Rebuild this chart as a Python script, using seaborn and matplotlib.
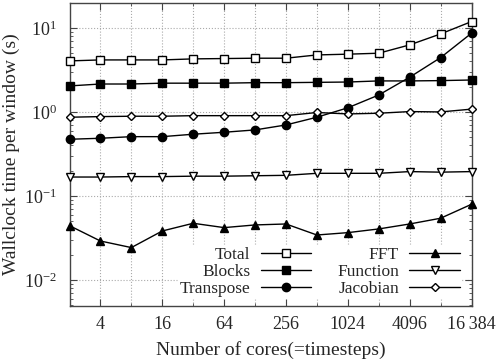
import numpy as np
import pandas as pd
import matplotlib
matplotlib.use("Agg")
import matplotlib.pyplot as plt
import matplotlib.ticker as mticker
import seaborn as sns

# Data
cores = [2, 4, 8, 16, 32, 64, 128, 256, 512, 1024, 2048, 4096, 8192, 16384]
total = [4.05, 4.16, 4.16, 4.16, 4.28, 4.32, 4.36, 4.36, 4.77, 4.87, 5.0, 6.28, 8.48, 11.9]
blocks = [2.04, 2.15, 2.15, 2.20, 2.20, 2.20, 2.23, 2.23, 2.25, 2.27, 2.34, 2.34, 2.36, 2.40]
transpose = [0.473, 0.486, 0.508, 0.508, 0.543, 0.573, 0.611, 0.70, 0.865, 1.12, 1.59, 2.59, 4.43, 8.65]
fft = [0.0443, 0.0291, 0.0243, 0.0383, 0.0473, 0.0420, 0.0452, 0.0464, 0.0343, 0.0366, 0.0405, 0.0464, 0.0543, 0.0796]
function = [0.168, 0.168, 0.170, 0.170, 0.172, 0.172, 0.174, 0.176, 0.186, 0.186, 0.186, 0.195, 0.192, 0.195]
jacobian = [0.865, 0.880, 0.889, 0.889, 0.903, 0.903, 0.903, 0.903, 0.985, 0.947, 0.965, 1.01, 1.0, 1.08]

x_ticks = [4, 16, 64, 256, 1024, 4096, 16384]
x_ticklabels = ["4", "16", "64", "256", "1024", "4096", "16\u2009384"]

sns.set_theme(style="ticks")
plt.rcParams["font.family"] = ["Liberation Serif", "DejaVu Serif"]
plt.rcParams["mathtext.fontset"] = "custom"
plt.rcParams["mathtext.rm"] = "Liberation Serif"
plt.rcParams["mathtext.it"] = "Liberation Serif:italic"

fig, ax = plt.subplots(figsize=(5, 3.63), dpi=100)
fig.subplots_adjust(left=0.139, right=0.943, bottom=0.157, top=0.992)

series = [
    ("Total", total, "s", "white", 5.5),
    ("Blocks", blocks, "s", "black", 5.5),
    ("Transpose", transpose, "o", "black", 6),
    ("FFT", fft, "^", "black", 6),
    ("Function", function, "v", "white", 6),
    ("Jacobian", jacobian, "D", "white", 4.5),
]

for name, vals, mk, fc, ms in series:
    sns.lineplot(x=cores, y=vals, ax=ax, color="black", lw=1,
                 marker=mk, markerfacecolor=fc, markeredgecolor="black",
                 markeredgewidth=1, markersize=ms, label=name, clip_on=False,
                 zorder=3)

ax.set_xscale("log", base=2)
ax.set_yscale("log")
ax.set_xlim(2, 16384)
ax.set_ylim(0.0049, 19.85)

ax.xaxis.set_major_locator(mticker.FixedLocator(x_ticks))
ax.xaxis.set_major_formatter(mticker.FixedFormatter(x_ticklabels))
ax.xaxis.set_minor_locator(mticker.FixedLocator([8, 32, 128, 512, 2048, 8192]))
ax.xaxis.set_minor_formatter(mticker.NullFormatter())

ax.yaxis.set_major_locator(mticker.FixedLocator([0.01, 0.1, 1, 10]))
ax.yaxis.set_major_formatter(mticker.FixedFormatter(
    [r"$10^{-2}$", r"$10^{-1}$", r"$10^{0}$", r"$10^{1}$"]))
ax.yaxis.set_minor_locator(mticker.LogLocator(base=10, subs=np.arange(2, 10), numticks=20))
ax.yaxis.set_minor_formatter(mticker.NullFormatter())

ax.tick_params(which="both", direction="in", top=True, right=True, color="#444444")
ax.tick_params(which="major", length=5, width=0.8, labelsize=13, pad=7)
ax.tick_params(axis="y", which="major", pad=9)
ax.tick_params(which="minor", length=2.5, width=0.6)

ax.grid(True, which="major", axis="both", color="#aaaaaa", linestyle=":", lw=0.8)
ax.grid(True, which="minor", axis="x", color="#aaaaaa", linestyle=":", lw=0.8)

for sp in ax.spines.values():
    sp.set_color("#444444")
    sp.set_linewidth(1)

ax.set_xlabel("Number of cores(=timesteps)", fontsize=14, labelpad=6)
ax.set_ylabel("Wallclock time per window (s)", fontsize=14, labelpad=3)

leg = ax.legend(ncol=2, loc="lower right", bbox_to_anchor=(0.975, 0.025),
                markerfirst=False, frameon=True, fancybox=False,
                edgecolor="white", framealpha=1, fontsize=12.5,
                handlelength=2.9, handletextpad=0.6, columnspacing=1.5,
                labelspacing=0.05, borderpad=0.1, borderaxespad=0.0)
for t in leg.get_texts():
    t.set_ha("right")
leg.set_zorder(5)

fig.savefig("out.png", dpi=100)
